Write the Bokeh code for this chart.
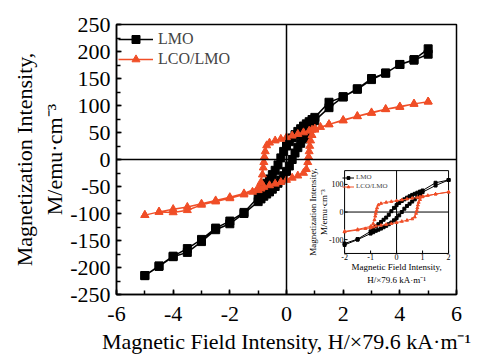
import math
from bokeh.plotting import figure
from bokeh.models import Range1d, SingleIntervalTicker, Span, Legend, LegendItem, PrintfTickFormatter
from bokeh.core.properties import value
from bokeh.embed import file_html
from bokeh.resources import INLINE

# ---------------- data ----------------
# LMO, descending branch (+5 -> -5)
lmo_down_h = [5, 4.5, 4, 3.5, 3, 2.5, 2, 1.5, 1.0, 0.9, 0.8, 0.7, 0.6, 0.5, 0.4, 0.3, 0.2, 0.1, 0,
              -0.1, -0.2, -0.3, -0.4, -0.5, -0.6, -0.7, -0.8, -0.9, -1.0, -1.5, -2, -2.5, -3, -3.5, -4, -4.5, -5]
lmo_down_m = [205, 185, 176, 160, 150, 131, 116, 106, 78, 74, 70, 66, 62, 57, 52, 46, 40, 33, 25,
              15, 3, -10, -20, -28, -36, -44, -52, -60, -70, -98, -114, -127, -148, -165, -179, -197, -215]
# LMO, ascending branch (-5 -> +5)
lmo_up_h = [-5, -4.5, -4, -3.5, -3, -2.5, -2, -1.5, -1.0, -0.9, -0.8, -0.7, -0.6, -0.5, -0.4, -0.3, -0.2, -0.1, 0,
            0.1, 0.2, 0.3, 0.4, 0.5, 0.6, 0.7, 0.8, 0.9, 1.0, 1.5, 2, 2.5, 3, 3.5, 4, 4.5, 5]
lmo_up_m = [-215, -198, -180, -172, -152, -130, -119, -100, -78, -73, -68, -64, -60, -55, -50, -44, -38, -30, -22,
            -12, 0, 12, 22, 30, 38, 46, 54, 62, 72, 96, 116, 130, 148, 160, 176, 184, 195]

# LCO/LMO, descending branch (+5 -> -5)
lco_down_h = [5, 4.5, 4, 3.5, 3, 2.5, 2, 1.5, 1.2, 1.0, 0.9, 0.8, 0.6, 0.4, 0.2, 0, -0.2, -0.4, -0.6,
              -0.7, -0.75, -0.78, -0.8, -0.82, -0.85, -0.9, -1.0, -1.5, -2, -2.5, -3, -3.5, -4, -4.5, -5]
lco_down_m = [107, 103, 97, 93, 87, 80, 73, 65, 60, 57, 55, 53, 50, 47, 44, 41, 38, 35, 31,
              26, 15, 5, -5, -15, -28, -42, -52, -63, -70, -76, -82, -88, -92, -97, -103]
# LCO/LMO, ascending branch (-5 -> +5)
lco_up_h = [-5, -4.5, -4, -3.5, -3, -2.5, -2, -1.5, -1.2, -1.0, -0.9, -0.8, -0.6, -0.4, -0.2, 0, 0.2, 0.4, 0.6,
            0.7, 0.75, 0.78, 0.8, 0.82, 0.85, 0.9, 1.0, 1.5, 2, 2.5, 3, 3.5, 4, 4.5, 5]
lco_up_m = [-103, -97, -98, -94, -84, -78, -72, -65, -60, -57, -54, -51, -48, -45, -42, -38, -34, -30, -25,
            -18, -5, 5, 15, 25, 35, 45, 55, 65, 72, 80, 86, 93, 98, 103, 107]

series_names = ["LMO", "LCO/LMO"]
x_label = "Magnetic Field Intensity, H/\u00d779.6 kA\u00b7m\u207b\u00b9"
y_label = "Magnetization Intensity,\nM/emu\u00b7cm\u207b\u00b3"
inset_x_label = ["Magnetic Field Intensity,", "H/\u00d779.6 kA\u00b7m\u207b\u00b9"]
inset_y_label = ["Magnetization Intensity,", "M/emu\u00b7cm\u207b\u00b3"]
inset_x_ticks = [-2, -1, 0, 1, 2]
inset_x_tick_labels = ["-2", "-1", "0", "1", "2"]
inset_y_ticks = [-100, 0, 100]
inset_y_tick_labels = ["-100", "0", "100"]

lmo_h = lmo_down_h + lmo_up_h
lmo_m = lmo_down_m + lmo_up_m
lco_h = lco_down_h + lco_up_h
lco_m = lco_down_m + lco_up_m

FONT = "Liberation Serif"
BLACK = "#000000"
RED = "#F04E27"

# ---------------- main figure ----------------
p = figure(width=479, height=356, x_range=Range1d(-6, 6), y_range=Range1d(-250, 250),
           output_backend="svg", toolbar_location=None,
           min_border_left=116, min_border_right=23, min_border_top=24, min_border_bottom=58)
p.xaxis.ticker = SingleIntervalTicker(interval=2, num_minor_ticks=2)
p.yaxis.ticker = SingleIntervalTicker(interval=50, num_minor_ticks=2)
p.xaxis.formatter = PrintfTickFormatter(format="%d")
p.yaxis.formatter = PrintfTickFormatter(format="%d")
p.grid.visible = False
p.outline_line_color = "black"
p.outline_line_width = 1.5
p.outline_line_alpha = 1.0
for ax in p.axis:
    ax.axis_line_width = 1.5
    ax.axis_line_color = "black"
    ax.major_tick_in = 5
    ax.major_tick_out = 0
    ax.minor_tick_in = 4
    ax.minor_tick_out = 0
    ax.major_tick_line_width = 1.5
    ax.minor_tick_line_width = 1.5
    ax.major_label_text_font = FONT
    ax.major_label_text_font_size = "22px"
    ax.major_label_text_color = "black"
    ax.axis_label_text_font = FONT
    ax.axis_label_text_font_size = "22px"
    ax.axis_label_text_font_style = "normal"
    ax.axis_label_text_color = "black"
p.xaxis.major_label_standoff = 12
p.xaxis.axis_label_standoff = 5
p.yaxis.major_label_standoff = 6
p.yaxis.axis_label_standoff = 0
p.xaxis.axis_label = x_label
p.yaxis.axis_label = y_label

p.add_layout(Span(location=0, dimension="height", line_color="black", line_width=1.5))
p.add_layout(Span(location=0, dimension="width", line_color="black", line_width=1.5))

p.line(lmo_h, lmo_m, line_color=BLACK, line_width=1.5, legend_label=series_names[0])
p.scatter(lmo_h, lmo_m, marker="square", size=8, fill_color=BLACK, line_color=BLACK,
          legend_label=series_names[0])
p.line(lco_h, lco_m, line_color=RED, line_width=1.5, legend_label=series_names[1])
p.scatter(lco_h, lco_m, marker="triangle", size=8, fill_color=RED, line_color=RED,
          legend_label=series_names[1])

lg = p.legend[0]
lg.location = (2, 225)
lg.margin = 0
lg.padding = 2
lg.spacing = 0
lg.glyph_width = 35
lg.glyph_height = 20
lg.label_height = 20
lg.label_standoff = 5
lg.label_text_font = FONT
lg.label_text_font_size = "16px"
lg.border_line_color = None
lg.background_fill_alpha = 0

# ---------------- inset (sub-coordinate system inside the main frame) ----------------
ix0, ix1 = -2, 2
iy0, iy1 = -150, 150
INSET_W_PX, INSET_H_PX = 104, 84       # inset frame size in pixels
sub = p.subplot(x_source=Range1d(ix0, ix1), y_source=Range1d(iy0, iy1),
                x_target=Range1d(2.05, 5.72), y_target=Range1d(-174.0, -20.6))

# only the part of the loops inside the inset window
in_lmo = [(h, m) for h, m in zip(lmo_h, lmo_m) if ix0 <= h <= ix1]
in_lco = [(h, m) for h, m in zip(lco_h, lco_m) if ix0 <= h <= ix1]
in_lmo_h = [t[0] for t in in_lmo]
in_lmo_m = [t[1] for t in in_lmo]
in_lco_h = [t[0] for t in in_lco]
in_lco_m = [t[1] for t in in_lco]

# frame
sub.quad(left=[ix0], right=[ix1], bottom=[iy0], top=[iy1],
         fill_color="white", line_color="black", line_width=1)
# zero lines
sub.segment(x0=[ix0, 0], y0=[0, iy0], x1=[ix1, 0], y1=[0, iy1], line_color="black", line_width=1)
# ticks (inward, 3 px)
tx = 3 * (ix1 - ix0) / INSET_W_PX
ty = 3 * (iy1 - iy0) / INSET_H_PX
sub.segment(x0=inset_x_ticks, y0=[iy0] * len(inset_x_ticks),
            x1=inset_x_ticks, y1=[iy0 + ty] * len(inset_x_ticks), line_color="black", line_width=1)
sub.segment(x0=[ix0] * len(inset_y_ticks), y0=inset_y_ticks,
            x1=[ix0 + tx] * len(inset_y_ticks), y1=inset_y_ticks, line_color="black", line_width=1)
# tick labels
sub.text(x=inset_x_ticks, y=[iy0] * len(inset_x_ticks), text=inset_x_tick_labels,
         text_font=value(FONT), text_font_size="8px", text_align="center",
         text_baseline="top", y_offset=1, text_color="black")
sub.text(x=[ix0] * len(inset_y_ticks), y=inset_y_ticks, text=inset_y_tick_labels,
         text_font=value(FONT), text_font_size="8px", text_align="right",
         text_baseline="middle", x_offset=-1, text_color="black")
# axis labels
for line_txt, off in zip(inset_x_label, [14, 27]):
    sub.text(x=[0], y=[iy0], text=[line_txt], text_font=value(FONT), text_font_size="9px",
             text_align="center", text_baseline="middle", y_offset=off, text_color="black")
for line_txt, off in zip(inset_y_label, [-32, -21]):
    sub.text(x=[ix0], y=[0], text=[line_txt], text_font=value(FONT), text_font_size="9px",
             text_align="center", text_baseline="middle", x_offset=off, angle=math.pi / 2,
             text_color="black")

# data
r1 = sub.line(in_lmo_h, in_lmo_m, line_color=BLACK, line_width=1)
r2 = sub.scatter(in_lmo_h, in_lmo_m, marker="square", size=3, fill_color=BLACK, line_color=BLACK)
r3 = sub.line(in_lco_h, in_lco_m, line_color=RED, line_width=1)
r4 = sub.scatter(in_lco_h, in_lco_m, marker="triangle", size=3, fill_color=RED, line_color=RED)

lq = Legend(items=[LegendItem(label=series_names[0], renderers=[r1, r2]),
                   LegendItem(label=series_names[1], renderers=[r3, r4])],
            location=(226, 104))
lq.margin = 0
lq.padding = 2
lq.spacing = 1
lq.glyph_width = 12
lq.glyph_height = 7
lq.label_height = 7
lq.label_standoff = 2
lq.label_text_font = FONT
lq.label_text_font_size = "7px"
lq.border_line_color = None
lq.background_fill_alpha = 0
p.add_layout(lq, "center")

open("out.html", "w").write(file_html(p, INLINE))
